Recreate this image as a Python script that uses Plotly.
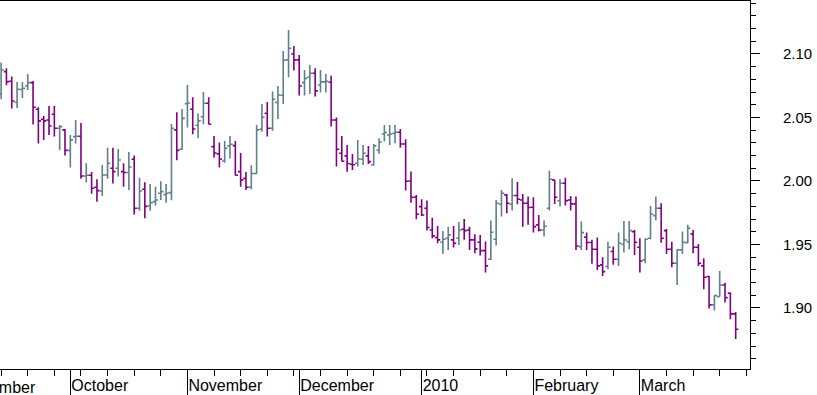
import plotly.graph_objects as go
import pandas as pd

# trading-day categories (weekdays) shown on the axis
all_days = pd.bdate_range("2009-09-01", "2010-03-29").strftime("%Y-%m-%d").tolist()
dates = pd.bdate_range("2009-09-14", periods=139).strftime("%Y-%m-%d").tolist()

opens = [2.0685, 2.0861, 2.0785, 2.0620, 2.0720, 2.0748, 2.0774, 2.0564, 2.0486, 2.0480,
         2.0525, 2.0415, 2.0402, 2.0241, 2.0349, 2.0352, 2.0039, 2.0045, 1.9950, 1.9921,
         2.0047, 2.0100, 2.0100, 2.0073, 2.0066, 2.0171, 1.9785, 1.9934, 1.9803, 1.9837,
         1.9903, 1.9892, 1.9908, 2.0402, 2.0249, 2.0609, 2.0564, 2.0438, 2.0506, 2.0612,
         2.0270, 2.0213, 2.0157, 2.0276, 2.0278, 2.0073, 2.0020, 1.9950, 2.0058, 2.0407,
         2.0533, 2.0415, 2.0619, 2.0675, 2.0953, 2.1000, 2.0953, 2.0774, 2.0816, 2.0848,
         2.0756, 2.0780, 2.0777, 2.0480, 2.0218, 2.0197, 2.0131, 2.0139, 2.0171, 2.0197,
         2.0126, 2.0244, 2.0370, 2.0362, 2.0375, 2.0383, 2.0291, 2.0000, 1.9871, 1.9798,
         1.9785, 1.9614, 1.9554, 1.9517, 1.9549, 1.9536, 1.9549, 1.9619, 1.9614, 1.9536,
         1.9517, 1.9451, 1.9383, 1.9541, 1.9816, 1.9890, 1.9816, 1.9885, 1.9850, 1.9824,
         1.9793, 1.9654, 1.9614, 1.9785, 2.0008, 1.9845, 1.9982, 1.9850, 1.9819, 1.9483,
         1.9557, 1.9515, 1.9462, 1.9339, 1.9326, 1.9444, 1.9383, 1.9501, 1.9522, 1.9601,
         1.9478, 1.9378, 1.9549, 1.9727, 1.9785, 1.9609, 1.9462, 1.9352, 1.9457, 1.9514,
         1.9583, 1.9478, 1.9331, 1.9247, 1.9024, 1.9089, 1.9181, 1.9115, 1.8953]

highs = [2.0932, 2.0887, 2.0822, 2.0780, 2.0780, 2.0843, 2.0787, 2.0580, 2.0512, 2.0591,
         2.0591, 2.0441, 2.0409, 2.0362, 2.0480, 2.0457, 2.0139, 2.0071, 2.0013, 2.0126,
         2.0262, 2.0262, 2.0252, 2.0139, 2.0228, 2.0200, 2.0026, 1.9989, 1.9976, 1.9955,
         1.9997, 1.9976, 2.0449, 2.0541, 2.0567, 2.0756, 2.0659, 2.0533, 2.0701, 2.0659,
         2.0354, 2.0302, 2.0315, 2.0354, 2.0315, 2.0220, 2.0071, 2.0123, 2.0441, 2.0606,
         2.0622, 2.0704, 2.0748, 2.1024, 2.1189, 2.1063, 2.0992, 2.0874, 2.0913, 2.0887,
         2.0874, 2.0843, 2.0829, 2.0499, 2.0354, 2.0283, 2.0213, 2.0323, 2.0283, 2.0276,
         2.0291, 2.0336, 2.0441, 2.0441, 2.0441, 2.0409, 2.0328, 2.0074, 1.9890, 1.9856,
         1.9845, 1.9711, 1.9646, 1.9606, 1.9640, 1.9646, 1.9677, 1.9701, 1.9640, 1.9580,
         1.9575, 1.9523, 1.9688, 1.9850, 1.9929, 1.9898, 2.0021, 1.9992, 1.9898, 1.9877,
         1.9871, 1.9732, 1.9688, 2.0081, 2.0008, 2.0013, 2.0026, 1.9882, 1.9877, 1.9680,
         1.9593, 1.9536, 1.9554, 1.9399, 1.9522, 1.9483, 1.9593, 1.9685, 1.9685, 1.9614,
         1.9549, 1.9549, 1.9803, 1.9877, 1.9824, 1.9622, 1.9522, 1.9462, 1.9601, 1.9654,
         1.9614, 1.9504, 1.9391, 1.9252, 1.9100, 1.9291, 1.9199, 1.9123, 1.8968]

lows = [2.0643, 2.0753, 2.0570, 2.0575, 2.0654, 2.0717, 2.0444, 2.0294, 2.0323, 2.0362,
        2.0349, 2.0244, 2.0200, 2.0105, 2.0294, 2.0018, 1.9987, 1.9900, 1.9837, 1.9882,
        2.0018, 1.9979, 2.0034, 1.9955, 1.9929, 1.9735, 1.9766, 1.9706, 1.9766, 1.9806,
        1.9850, 1.9829, 1.9848, 2.0163, 2.0244, 2.0420, 2.0367, 2.0336, 2.0446, 2.0446,
        2.0184, 2.0105, 2.0144, 2.0176, 2.0042, 1.9955, 1.9929, 1.9934, 2.0055, 2.0388,
        2.0349, 2.0396, 2.0488, 2.0606, 2.0816, 2.0869, 2.0672, 2.0672, 2.0685, 2.0664,
        2.0696, 2.0696, 2.0428, 2.0113, 2.0155, 2.0073, 2.0087, 2.0113, 2.0126, 2.0134,
        2.0121, 2.0215, 2.0310, 2.0283, 2.0297, 2.0262, 1.9924, 1.9829, 1.9698, 1.9724,
        1.9609, 1.9549, 1.9509, 1.9425, 1.9457, 1.9475, 1.9496, 1.9536, 1.9457, 1.9430,
        1.9412, 1.9278, 1.9378, 1.9491, 1.9719, 1.9745, 1.9767, 1.9816, 1.9640, 1.9654,
        1.9593, 1.9601, 1.9562, 1.9767, 1.9819, 1.9798, 1.9806, 1.9767, 1.9457, 1.9457,
        1.9457, 1.9347, 1.9299, 1.9252, 1.9305, 1.9339, 1.9331, 1.9436, 1.9462, 1.9417,
        1.9278, 1.9352, 1.9541, 1.9688, 1.9514, 1.9425, 1.9320, 1.9181, 1.9425, 1.9509,
        1.9430, 1.9331, 1.9147, 1.8995, 1.8979, 1.9089, 1.9042, 1.8911, 1.8756]

closes = [2.0874, 2.0782, 2.0630, 2.0722, 2.0730, 2.0774, 2.0580, 2.0473, 2.0473, 2.0433,
          2.0415, 2.0428, 2.0241, 2.0323, 2.0352, 2.0039, 2.0045, 1.9942, 1.9924, 2.0047,
          2.0139, 2.0073, 2.0165, 2.0066, 2.0110, 1.9785, 1.9921, 1.9800, 1.9829, 1.9850,
          1.9916, 1.9903, 2.0415, 2.0241, 2.0493, 2.0614, 2.0409, 2.0473, 2.0612, 2.0446,
          2.0220, 2.0173, 2.0257, 2.0289, 2.0045, 2.0008, 1.9950, 2.0058, 2.0402, 2.0501,
          2.0415, 2.0643, 2.0677, 2.0950, 2.1045, 2.0953, 2.0748, 2.0808, 2.0848, 2.0709,
          2.0780, 2.0785, 2.0480, 2.0249, 2.0155, 2.0137, 2.0128, 2.0173, 2.0218, 2.0152,
          2.0276, 2.0307, 2.0381, 2.0370, 2.0383, 2.0291, 1.9997, 1.9871, 1.9738, 1.9732,
          1.9633, 1.9567, 1.9536, 1.9541, 1.9575, 1.9509, 1.9614, 1.9609, 1.9536, 1.9465,
          1.9451, 1.9331, 1.9596, 1.9824, 1.9903, 1.9824, 1.9885, 1.9856, 1.9824, 1.9791,
          1.9640, 1.9614, 1.9643, 2.0013, 1.9871, 1.9982, 1.9845, 1.9819, 1.9488, 1.9593,
          1.9515, 1.9462, 1.9331, 1.9286, 1.9478, 1.9383, 1.9509, 1.9536, 1.9609, 1.9517,
          1.9370, 1.9541, 1.9740, 1.9785, 1.9549, 1.9462, 1.9352, 1.9457, 1.9517, 1.9627,
          1.9478, 1.9352, 1.9241, 1.9024, 1.9097, 1.9181, 1.9081, 1.8953, 1.8832]

month_ticks = ["2009-10-01", "2009-11-02", "2009-12-01", "2010-01-01", "2010-02-01", "2010-03-01"]
month_labels = ["October", "November", "December", "2010", "February", "March"]
hidden_month = "2009-09-01"
hidden_label = "September"
week_ticks = [d for d in all_days if pd.Timestamp(d).dayofweek == 0 and d not in month_ticks]

UP = "#5f8088"
DOWN = "#800080"
FONT = "Arial, Liberation Sans, sans-serif"

fig = go.Figure(go.Ohlc(
    x=dates, open=opens, high=highs, low=lows, close=closes,
    increasing=dict(line=dict(color=UP, width=1.6)),
    decreasing=dict(line=dict(color=DOWN, width=1.6)),
    tickwidth=0.5, hoverinfo="skip",
))

x0 = all_days.index(dates[0]) - 0.21
x1 = len(all_days) - 1 + 0.69

fig.update_layout(
    width=817, height=395,
    margin=dict(l=0, r=67, t=1, b=26),
    paper_bgcolor="white", plot_bgcolor="white",
    showlegend=False,
    font=dict(family=FONT, color="black"),
    xaxis=dict(
        type="category", categoryorder="array", categoryarray=all_days,
        range=[x0, x1], rangeslider=dict(visible=False),
        showgrid=False, zeroline=False,
        showline=True, linecolor="black", linewidth=1, mirror=True,
        tickmode="array", tickvals=month_ticks, ticktext=month_labels,
        ticks="outside", ticklen=26, tickcolor="black", tickwidth=1,
        ticklabelposition="outside right", ticklabelstandoff=2,
        tickfont=dict(size=16, family=FONT, color="black"),
        minor=dict(tickmode="array", tickvals=week_ticks, ticks="outside",
                   ticklen=6, tickcolor="black", tickwidth=1, showgrid=False),
    ),
    yaxis=dict(
        side="right", range=[1.8519, 2.1417],
        showgrid=False, zeroline=False,
        showline=True, linecolor="black", linewidth=1,
        dtick=0.05, tick0=1.9, tickformat=".2f",
        ticks="outside", ticklen=9, tickcolor="black", tickwidth=1,
        ticklabelstandoff=20,
        tickfont=dict(size=15, family=FONT, color="black"),
        minor=dict(dtick=0.01, ticks="outside", ticklen=5, tickcolor="black",
                   tickwidth=1, showgrid=False),
    ),
)

# left-most month label whose start lies beyond the left edge
sep_frac = (all_days.index(hidden_month) - x0) / (x1 - x0)
fig.add_annotation(
    x=sep_frac, xref="paper", y=0, yref="paper", yanchor="top", xanchor="left",
    xshift=2, yshift=-8, text=hidden_label, showarrow=False,
    font=dict(size=16, family=FONT, color="black"),
)

fig.write_html("out.html", config={"displayModeBar": False},
               post_script="document.body.style.margin='0';")
